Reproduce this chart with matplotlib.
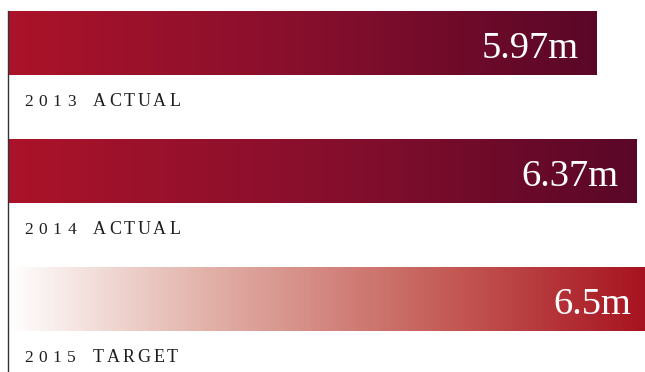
import numpy as np
import matplotlib
matplotlib.use("Agg")
import matplotlib.pyplot as plt
from matplotlib.colors import LinearSegmentedColormap
from matplotlib.font_manager import FontProperties
from matplotlib.textpath import TextToPath

# ---- data ----
categories = ["2013 ACTUAL", "2014 ACTUAL", "2015 TARGET"]
values = [5.97, 6.37, 6.5]
value_labels = ["5.97m", "6.37m", "6.5m"]

DPI = 100
W, H = 645, 372
FONT = "Liberation Serif"

fig = plt.figure(figsize=(W / DPI, H / DPI), dpi=DPI)
ax_left_px = 8
ax = fig.add_axes([ax_left_px / W, 0, 1 - ax_left_px / W, 1])

px_per_unit = 98.6
xmax = (W - ax_left_px) / px_per_unit
row_px = 128.0
first_center_px = 43.0
ymax = (H - first_center_px) / row_px
ymin = -first_center_px / row_px

actual_cmap = LinearSegmentedColormap.from_list(
    "actual", [(0.0, "#ab1329"), (0.5, "#870f2d"), (1.0, "#5a0727")])
target_cmap = LinearSegmentedColormap.from_list(
    "target", [(0.0, "#ffffff"), (0.30, "#e2b4ab"), (0.69, "#c45a55"), (1.0, "#a6121f")])
cmaps = [actual_cmap, actual_cmap, target_cmap]

bar_h = 0.5
grad = np.linspace(0, 1, 512).reshape(1, -1)
for i, (v, cm) in enumerate(zip(values, cmaps)):
    ax.imshow(grad, cmap=cm, aspect="auto", interpolation="bilinear",
              extent=[0, v, i + bar_h / 2, i - bar_h / 2], zorder=1)
    ax.annotate(value_labels[i], xy=(v, i), xytext=(-18 * 0.72, -15 * 0.72),
                textcoords="offset points", ha="right", va="baseline",
                color="white", fontsize=27.7, family=FONT, zorder=3,
                annotation_clip=False)

ax.set_xlim(0, xmax)
ax.set_ylim(ymax, ymin)

# ---- tracked small-caps style labels ----
letter_size = 13.0
digit_size = 12.5
t2p = TextToPath()

def advance_pt(ch, size):
    prop = FontProperties(family=FONT, size=size)
    w1 = t2p.get_text_width_height_descent(ch + "|", prop, ismath=False)[0]
    w2 = t2p.get_text_width_height_descent("|", prop, ismath=False)[0]
    return w1 - w2

track_letter_pt = 2.8 * 0.72
track_digit_pt = 5.7 * 0.72
space_pt = 11.4 * 0.72
start_pt = 16 * 0.72
baseline_off_pt = -63.0 * 0.72

for i, lab in enumerate(categories):
    x = start_pt
    for ch in lab:
        if ch == " ":
            x += space_pt
            continue
        size = digit_size if ch.isdigit() else letter_size
        ax.annotate(ch, xy=(0, i), xytext=(x, baseline_off_pt),
                    textcoords="offset points", ha="left", va="baseline",
                    color="#1e1e1e", fontsize=size, family=FONT,
                    annotation_clip=False)
        x += advance_pt(ch, size) + (track_digit_pt if ch.isdigit() else track_letter_pt)

for s in ["top", "right", "bottom"]:
    ax.spines[s].set_visible(False)
ax.spines["left"].set_color("#333333")
ax.spines["left"].set_linewidth(1.0)
ax.spines["left"].set_bounds(-bar_h / 2, ymax)
ax.set_xticks([])
ax.set_yticks([])
ax.patch.set_alpha(0)

fig.savefig("out.png", dpi=DPI)
